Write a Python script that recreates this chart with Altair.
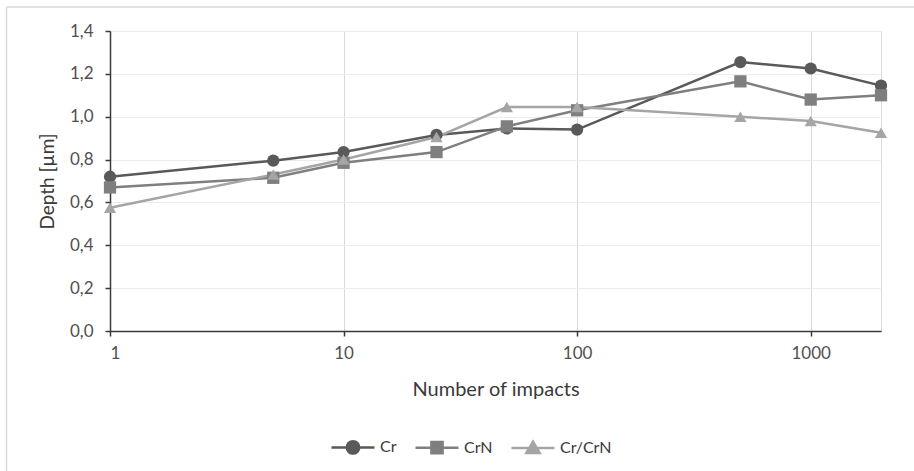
import altair as alt
import pandas as pd

impacts = [1, 5, 10, 25, 50, 100, 500, 1000, 2000]
series_names = ["Cr", "CrN", "Cr/CrN"]
depth_cr = [0.72, 0.795, 0.835, 0.915, 0.945, 0.94, 1.255, 1.225, 1.145]
depth_crn = [0.67, 0.715, 0.785, 0.835, 0.955, 1.03, 1.165, 1.08, 1.10]
depth_crcrn = [0.575, 0.73, 0.80, 0.905, 1.045, 1.045, 1.00, 0.98, 0.925]
series_colors = ["#595959", "#7f7f7f", "#a5a5a5"]
marker_shapes = ["circle", "square", "triangle-up"]
y_ticks = [0, 0.2, 0.4, 0.6, 0.8, 1.0, 1.2, 1.4]
x_ticks = [1, 10, 100, 1000]

rows = []
for name, vals in zip(series_names, [depth_cr, depth_crn, depth_crcrn]):
    for xv, yv in zip(impacts, vals):
        rows.append({"series": name, "impacts": xv, "depth": yv})
df = pd.DataFrame(rows)

FONT = "Lato"

x_enc = alt.X(
    "impacts:Q",
    scale=alt.Scale(type="log", domain=[1, 2000], nice=False),
    axis=alt.Axis(
        values=x_ticks, format="d", title="Number of impacts",
        grid=True, gridColor="#d9d9d9", gridWidth=1,
        domainColor="#3a3a3a", domainWidth=1.5, tickColor="#3a3a3a", tickWidth=1.5,
        tickSize=5, labelPadding=9, labelFontSize=17, labelColor="#505050",
        titleFontSize=20, titleColor="#3a3a3a", titleFontWeight="normal", titlePadding=18,
        labelFont=FONT, titleFont=FONT,
    ),
)
y_enc = alt.Y(
    "depth:Q",
    scale=alt.Scale(domain=[0, 1.4], nice=False),
    axis=alt.Axis(
        values=y_ticks, title="Depth [µm]",
        labelExpr="replace(format(datum.value, '.1f'), '.', ',')",
        grid=True, gridColor="#ececec", gridWidth=1,
        domainColor="#3a3a3a", domainWidth=1.5, tickColor="#3a3a3a", tickWidth=1.5,
        tickSize=5, labelPadding=12, labelFontSize=17, labelColor="#505050",
        titleFontSize=19, titleColor="#3a3a3a", titleFontWeight="normal", titlePadding=12,
        labelFont=FONT, titleFont=FONT,
    ),
)

shape_paths = {
    "Cr": "M-1,0H1M0.29,0A0.29,0.29,0,1,1,-0.29,0A0.29,0.29,0,1,1,0.29,0Z",
    "CrN": "M-1,0H1M-0.26,-0.26H0.26V0.26H-0.26Z",
    "Cr/CrN": "M-1,0H1M0,-0.29L0.31,0.24H-0.31Z",
}
shape_expr = "datum.value === 'Cr' ? '%s' : (datum.value === 'CrN' ? '%s' : '%s')" % (
    shape_paths["Cr"], shape_paths["CrN"], shape_paths["Cr/CrN"])
color_expr = "datum.value === 'Cr' ? '%s' : (datum.value === 'CrN' ? '%s' : '%s')" % tuple(series_colors)

color_scale = alt.Scale(domain=series_names, range=series_colors)

legend = alt.Legend(
    orient="none", legendX=220, legendY=393, direction="horizontal", title=None,
    symbolSize=1849, labelFontSize=16, labelFont=FONT, labelColor="#3a3a3a",
    labelOffset=4, columnPadding=13, padding=0,
    symbolType=alt.ExprRef(expr=shape_expr),
    symbolFillColor=alt.ExprRef(expr=color_expr),
    symbolStrokeColor=alt.ExprRef(expr=color_expr),
    symbolStrokeWidth=2.5, symbolOpacity=1,
)

lines = alt.Chart(df).mark_line(strokeWidth=2.5).encode(
    x=x_enc, y=y_enc,
    color=alt.Color("series:N", scale=color_scale, legend=legend),
)

point_layers = []
for name, col, shp in zip(series_names, series_colors, marker_shapes):
    point_layers.append(
        alt.Chart(df).transform_filter(alt.datum.series == name)
        .mark_point(filled=True, opacity=1, size=150, shape=shp, color=col)
        .encode(x=x_enc, y=y_enc)
    )

frame_df = pd.DataFrame({"k": [0]})
left_border = alt.Chart(frame_df).mark_rule(color="#d9d9d9", strokeWidth=1.5).encode(
    x=alt.value(-103.5), y=alt.value(-24), y2=alt.value(440))
top_border = alt.Chart(frame_df).mark_rule(color="#d9d9d9", strokeWidth=1.5).encode(
    x=alt.value(-103.5), x2=alt.value(804), y=alt.value(-24))

chart = alt.layer(left_border, top_border, lines, *point_layers).properties(
    width=771, height=300,
    autosize=alt.AutoSizeParams(type="none"),
    padding={"left": 110, "top": 31, "right": 33, "bottom": 140},
).configure_view(stroke=None).configure(background="white")

chart.save("out.html", embed_options={"renderer": "svg", "actions": False})
